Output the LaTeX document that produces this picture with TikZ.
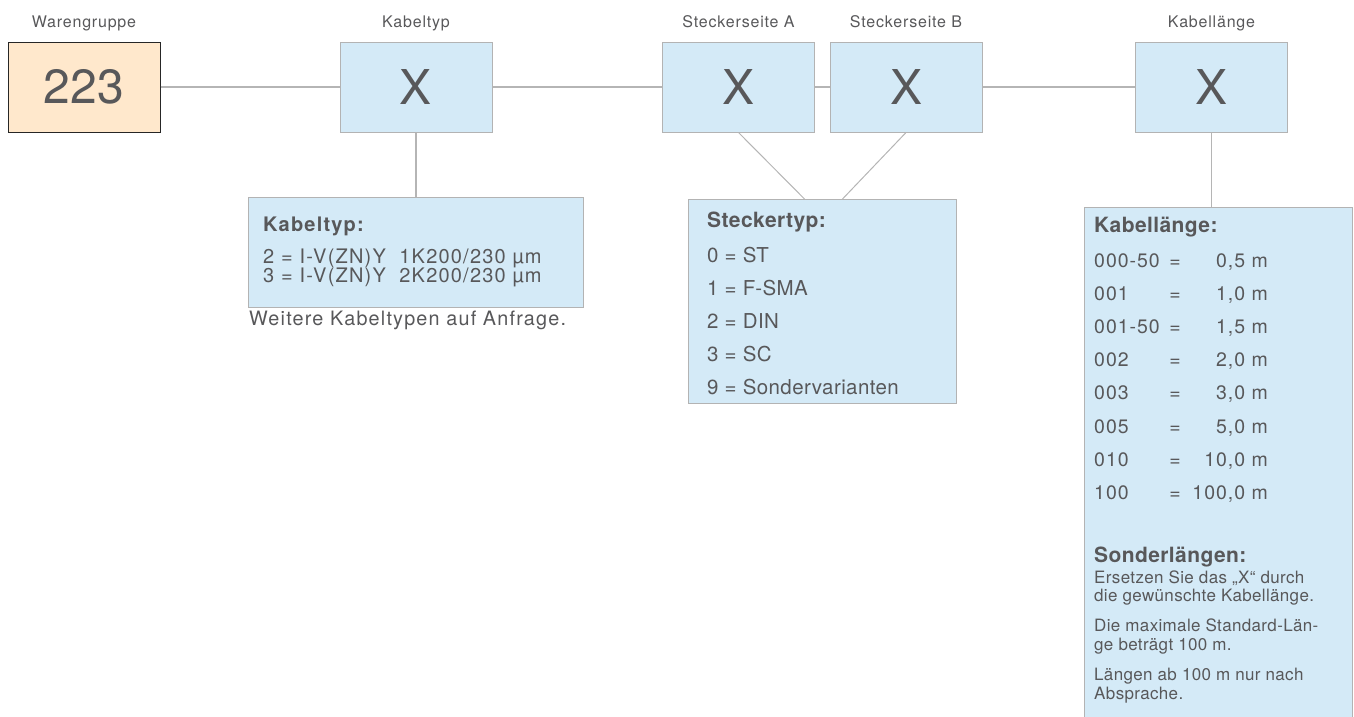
\documentclass[tikz,border=0pt]{standalone}
\usepackage{fontspec}
\setmainfont{TeX Gyre Heros}
\newfontfamily\lsA{TeX Gyre Heros}[LetterSpace=6]
\newfontfamily\lsB{TeX Gyre Heros}[LetterSpace=5]
\newfontfamily\lsC{TeX Gyre Heros}[LetterSpace=2]
\usetikzlibrary{calc}
\definecolor{boxblue}{HTML}{D4EAF7}
\definecolor{boxorange}{HTML}{FFE8CC}
\definecolor{boxline}{HTML}{B3B3B3}
\definecolor{txt}{HTML}{58585A}
\definecolor{connc}{HTML}{B5B5B5}
\begin{document}
\begin{tikzpicture}[x=1pt,y=-1pt,
  topbox/.style={draw=boxline, fill=boxblue, line width=1pt, minimum width=152pt, minimum height=90pt, inner sep=0pt, text=txt, font=\fontsize{48}{48}\selectfont},
  codebox/.style={topbox, fill=boxorange, draw=black!85},
  toplabel/.style={anchor=base, text=txt, inner sep=0pt, font=\lsB\fontsize{16}{16}\selectfont},
  infobox/.style={draw=boxline, fill=boxblue, line width=1pt, inner sep=0pt, anchor=north west},
  conn/.style={draw=connc, line width=1.2pt},
  ktxt/.style={anchor=base west, text=txt, inner sep=0pt, font=\lsA\fontsize{20}{20}\selectfont},
  kttitle/.style={anchor=base west, text=txt, inner sep=0pt, font=\lsA\bfseries\fontsize{20}{20}\selectfont},
  sttxt/.style={anchor=base west, text=txt, inner sep=0pt, font=\lsC\fontsize{20.5}{20.5}\selectfont},
  sttitle/.style={anchor=base west, text=txt, inner sep=0pt, font=\lsC\bfseries\fontsize{21}{21}\selectfont},
  kltxt/.style={anchor=base west, text=txt, inner sep=0pt, font=\lsB\fontsize{19.5}{19.5}\selectfont},
  kleq/.style={kltxt, anchor=base},
  klval/.style={kltxt, anchor=base east},
  smalltxt/.style={anchor=base west, text=txt, inner sep=0pt, font=\lsC\fontsize{17}{17}\selectfont},
]
\useasboundingbox (0,0) rectangle (1354,716);

% top row
\node[codebox] (wg) at (84,87) {223};
\node[topbox] (kt) at (416,87) {X};
\node[topbox] (sa) at (738.5,87) {X};
\node[topbox] (sb) at (906,87) {X};
\node[topbox] (kl) at (1211.5,87) {X};

\node[toplabel] (lwg) at (84,27) {Warengruppe};
\node[toplabel] (lkt) at (416,27) {Kabeltyp};
\node[toplabel] (lsa) at (738.5,27) {Steckerseite A};
\node[toplabel] (lsb) at (906,27) {Steckerseite B};
\node[toplabel] (lkl) at (1211.5,27) {Kabellänge};

\draw[conn] (wg.east) -- (kt.west);
\draw[conn] (kt.east) -- (sa.west);
\draw[conn] (sa.east) -- (sb.west);
\draw[conn] (sb.east) -- (kl.west);

% Kabeltyp info
\node[infobox, minimum width=335pt, minimum height=110pt] (ktbox) at (248,197) {};
\draw[conn] (kt.south) -- (kt.south |- ktbox.north);
\node[kttitle] (ktt) at (263,231) {Kabeltyp:};
\node[ktxt] (kt1) at (263,263) {2 = I-V(ZN)Y\ \ 1K200/230 µm};
\node[ktxt] (kt2) at (263,282) {3 = I-V(ZN)Y\ \ 2K200/230 µm};
\node[ktxt, font=\lsA\fontsize{19.8}{19.8}\selectfont] (ktw) at (249,325) {Weitere Kabeltypen auf Anfrage.};

% Steckertyp info
\node[infobox, minimum width=268pt, minimum height=204pt] (stbox) at (688,199) {};
\draw[conn, line width=1pt] (sa.south) -- ($(stbox.north)+(-18,0)$);
\draw[conn, line width=1pt] (sb.south) -- ($(stbox.north)+(20,0)$);
\node[sttitle] (stt) at (707,227) {Steckertyp:};
\node[sttxt] (st0) at (707,262) {0 = ST};
\node[sttxt] (st1) at (707,295) {1 = F-SMA};
\node[sttxt] (st2) at (707,328) {2 = DIN};
\node[sttxt] (st3) at (707,361) {3 = SC};
\node[sttxt] (st9) at (707,394) {9 = Sondervarianten};

% Kabellaenge info (runs past the bottom edge)
\node[fill=boxblue, inner sep=0pt, anchor=north west, minimum width=268pt, minimum height=520pt] (klbox) at (1084,207) {};
\draw[draw=boxline, line width=1pt] (klbox.south west) -- (klbox.north west) -- (klbox.north east) -- (klbox.south east);
\draw[conn] (kl.south) -- (kl.south |- klbox.north);
\node[sttitle] (klt) at (1094,232.5) {Kabellänge:};

\node[kltxt] (c1) at (1094,267) {000-50};
\node[kltxt] (c2) at (1094,300) {001};
\node[kltxt] (c3) at (1094,333) {001-50};
\node[kltxt] (c4) at (1094,366) {002};
\node[kltxt] (c5) at (1094,399) {003};
\node[kltxt] (c6) at (1094,433) {005};
\node[kltxt] (c7) at (1094,466) {010};
\node[kltxt] (c8) at (1094,499) {100};
\foreach \y/\n in {267/1,300/2,333/3,366/4,399/5,433/6,466/7,499/8}
  \node[kleq] (e\n) at (1175,\y) {=};
\node[klval] (v1) at (1268,267) {0,5 m};
\node[klval] (v2) at (1268,300) {1,0 m};
\node[klval] (v3) at (1268,333) {1,5 m};
\node[klval] (v4) at (1268,366) {2,0 m};
\node[klval] (v5) at (1268,399) {3,0 m};
\node[klval] (v6) at (1268,433) {5,0 m};
\node[klval] (v7) at (1268,466) {10,0 m};
\node[klval] (v8) at (1268,499) {100,0 m};

\node[sttitle] (slt) at (1094,562.5) {Sonderlängen:};
\node[smalltxt] (s1) at (1094,583) {Ersetzen Sie das „X“ durch};
\node[smalltxt] (s2) at (1094,601.7) {die gewünschte Kabellänge.};
\node[smalltxt] (s3) at (1094,631.7) {Die maximale Standard-Län-};
\node[smalltxt] (s4) at (1094,650.5) {ge beträgt 100 m.};
\node[smalltxt] (s5) at (1094,680.5) {Längen ab 100 m nur nach};
\node[smalltxt] (s6) at (1094,699.5) {Absprache.};
\end{tikzpicture}
\end{document}
